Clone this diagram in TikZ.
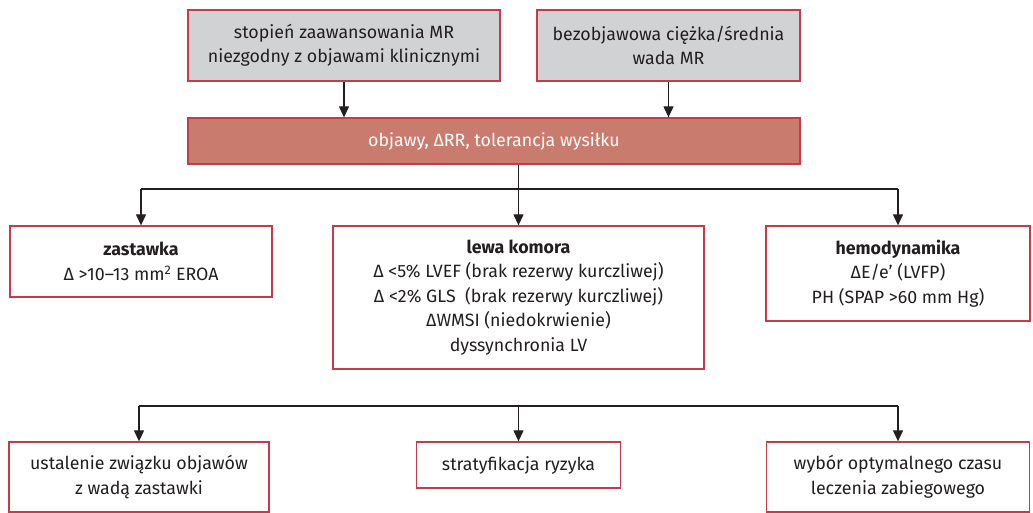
\documentclass[tikz,border=0pt]{standalone}
\usepackage{fontspec}
\setmainfont{Fira Sans}
\usetikzlibrary{arrows.meta}
\definecolor{boxline}{HTML}{C43C4C}
\definecolor{boxgray}{HTML}{D1D2D4}
\definecolor{barfill}{HTML}{C97B6E}
\definecolor{ink}{HTML}{231F20}
\tikzset{
  box/.style={draw=boxline, line width=1.3pt, fill=#1, text=ink,
    align=center, inner sep=0pt, font=\fontsize{17.8}{24.5}\selectfont},
  box/.default=white,
  link/.style={line width=1.2pt, ink, -{Triangle[length=11pt,width=10pt]}},
  rail/.style={line width=1.2pt, ink}
}

\begin{document}
\begin{tikzpicture}[x=1pt,y=-1pt]

\def\splitY{189}   % rail under the bar
\def\forkY{406}    % rail above the outcomes

\useasboundingbox (0,0) rectangle (1033,513);

%--- Entry boxes ---

\node[box=boxgray, minimum width=312pt, minimum height=71pt] (stopien) at (344,45.5)
  {stopień zaawansowania MR\\niezgodny z objawami klinicznymi};
\node[box=boxgray, minimum width=263pt, minimum height=71pt] (bezobj) at (668.5,45.5)
  {bezobjawowa ciężka/średnia\\wada MR};

% Stress echo bar
\node[box=barfill, text=white, minimum width=612pt, minimum height=46pt] (objawy) at (494,141)
  {objawy, ΔRR, tolerancja wysiłku};

%--- Assessed parameters ---

\node[box, minimum width=262pt, minimum height=71pt] (zastawka) at (141,261.5)
  {\textbf{zastawka}\\Δ >10–13 mm\textsuperscript{2} EROA};
\node[box, minimum width=371pt, minimum height=143pt] (komora) at (518.5,297.5)
  {\textbf{lewa komora}\\Δ <5\% LVEF (brak rezerwy kurczliwej)\\Δ <2\% GLS\ \ (brak rezerwy kurczliwej)\\ΔWMSI (niedokrwienie)\\dyssynchronia LV};
\node[box, minimum width=264pt, minimum height=95pt] (hemo) at (898,273.5)
  {\textbf{hemodynamika}\\ΔE/e’ (LVFP)\\PH (SPAP >60 mm Hg)};

%--- Outcomes ---

\node[box, minimum width=260pt, minimum height=70pt] (zwiazek) at (139,477)
  {ustalenie związku objawów\\z wadą zastawki};
\node[box, minimum width=204pt, minimum height=46pt] (ryzyko) at (518.5,465)
  {stratyfikacja ryzyka};
\node[box, minimum width=263pt, minimum height=70pt] (czas) at (898,477)
  {wybór optymalnego czasu\\leczenia zabiegowego};

\coordinate (split) at (518.5,\splitY);
\coordinate (fork)  at (518.5,\forkY);

%--- Connectors ---

\draw[link] (stopien.south) -- (stopien.south |- objawy.north);
\draw[link] (bezobj.south)  -- (bezobj.south |- objawy.north);
\draw[link] (objawy.south -| komora.north) -- (komora.north);
\draw[rail] (zastawka.north |- split) -- (hemo.north |- split);
\foreach \n in {zastawka, hemo}
  \draw[link] (\n.north |- split) -- (\n.north);

\draw[rail] (zwiazek.north |- fork) -- (czas.north |- fork);
\foreach \n in {zwiazek, ryzyko, czas}
  \draw[link] (\n.north |- fork) -- (\n.north);

\end{tikzpicture}
\end{document}
